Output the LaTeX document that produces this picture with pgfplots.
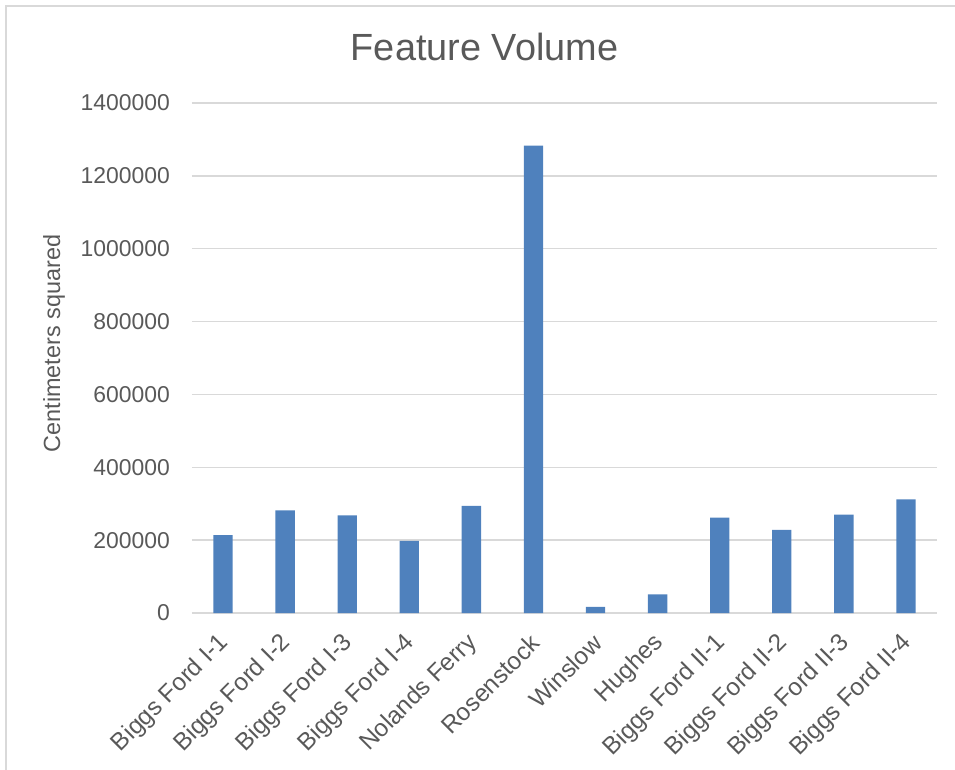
\documentclass[border=0pt]{standalone}
\usepackage{pgfplots}
\pgfplotsset{compat=1.18}
\usepackage{fontspec}
\setmainfont{Liberation Sans}
\definecolor{barblue}{HTML}{4F81BD}
\definecolor{gridgray}{HTML}{D9D9D9}
\definecolor{txtgray}{HTML}{595959}

\pgfplotstableread{
x  vol
0  214000
1  282000
2  268000
3  198000
4  294000
5  1283000
6  17000
7  51000
8  262000
9  228000
10 270000
11 312000
}\volumes

\begin{document}
\begin{tikzpicture}[x=1bp,y=1bp]
% page extent, origin at the lower left corner of the plot area
\useasboundingbox (-192,-157) rectangle (763,613);
\draw[gridgray, line width=1.5bp] (-186,-180) rectangle (790,607);
\begin{axis}[
  at={(0,0)}, anchor=south west,
  scale only axis, width=745bp, height=510bp,
  xmin=-0.5, xmax=11.5,
  ymin=0, ymax=1400000,
  ybar, bar width=19.3bp,
  axis line style={draw=none},
  major tick length=0pt,
  ymajorgrids,
  grid style={gridgray, line width=1.5bp},
  scaled y ticks=false,
  xtick={0,...,11},
  xticklabels={Biggs Ford I-1,Biggs Ford I-2,Biggs Ford I-3,Biggs Ford I-4,
    Nolands Ferry,Rosenstock,Winslow,Hughes,Biggs Ford II-1,Biggs Ford II-2,
    Biggs Ford II-3,Biggs Ford II-4},
  ytick={0,200000,400000,600000,800000,1000000,1200000,1400000},
  yticklabels={0,200000,400000,600000,800000,1000000,1200000,1400000},
  xticklabel style={font=\fontsize{24.5}{24.5}\selectfont, text=txtgray,
    inner sep=0pt, yshift=-26bp, xshift=2bp, rotate=45, anchor=east},
  yticklabel style={font=\fontsize{23}{23}\selectfont, text=txtgray,
    inner sep=0pt, anchor=east, xshift=-22bp},
  ylabel={Centimeters squared},
  every axis y label/.style={at={(axis description cs:0,0.5284)},
    xshift=-138bp, rotate=90, anchor=center,
    font=\fontsize{23.5}{23.5}\selectfont, text=txtgray},
  title={Feature Volume},
  every axis title/.style={at={(axis description cs:0.3926,1.1108)},
    anchor=center, font=\fontsize{38}{38}\selectfont, text=txtgray},
]
\addplot[fill=barblue, draw=none] table[x=x, y=vol] {\volumes};
\end{axis}
\end{tikzpicture}
\end{document}
